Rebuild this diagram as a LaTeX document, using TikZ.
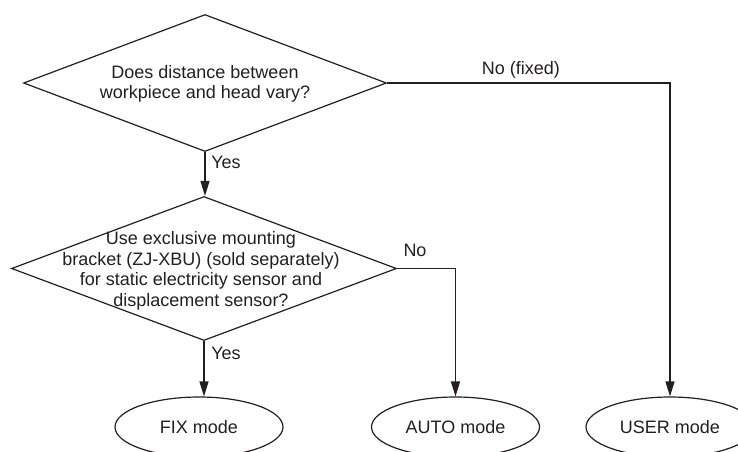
\documentclass[tikz,border=0pt]{standalone}
\usepackage{fontspec}
\setmainfont{Liberation Sans}
\usetikzlibrary{shapes.geometric,arrows.meta}
\definecolor{ink}{HTML}{231F20}
\begin{document}
\begin{tikzpicture}[x=1pt,y=1pt,
  every node/.style={font=\fontsize{18}{20.5}\selectfont, text=ink},
  decision/.style={draw=ink, line width=1.2pt, diamond, inner sep=0pt},
  modebox/.style={draw=ink, line width=1.2pt, ellipse, inner sep=0pt, minimum width=168pt, minimum height=60pt},
  arr/.style={draw=ink, line width=1.2pt, -{Triangle[length=15pt,width=9pt]}},
  lbl/.style={inner sep=0pt}]
\useasboundingbox (0,0) rectangle (738,451);
\clip (0,0) rectangle (738,451);
% decisions
\node[decision, minimum width=363pt, minimum height=137pt] (d1) at (205,368) {};
\node[align=center, inner sep=0pt] (t1) at (205,367) {Does distance between\\workpiece and head vary?};
\node[decision, minimum width=385pt, minimum height=144pt] (d2) at (204,182.5) {};
\node[align=center, inner sep=0pt] (t2) at (201,180) {Use exclusive mounting\\bracket (ZJ-XBU) (sold separately)\\for static electricity sensor and\\displacement sensor?};
% modes
\node[modebox] (fix) at (199,24) {FIX mode};
\node[modebox] (auto) at (455.5,24) {AUTO mode};
\node[modebox] (user) at (670,24) {USER mode};
% connectors
\draw[arr] (d1.south) -- (d1.south |- d2.north);
\draw[arr] (d1.east) -| (user.north);
\draw[arr] (d2.east) -| (auto.north);
\draw[arr] (d2.south) -- (d2.south |- fix.north);
% labels
\node[lbl] (ly1) at (226,289) {Yes};
\node[lbl] (lnf) at (521,381) {No (fixed)};
\node[lbl] (ln2) at (415,201) {No};
\node[lbl] (ly2) at (226,98) {Yes};
\end{tikzpicture}
\end{document}
